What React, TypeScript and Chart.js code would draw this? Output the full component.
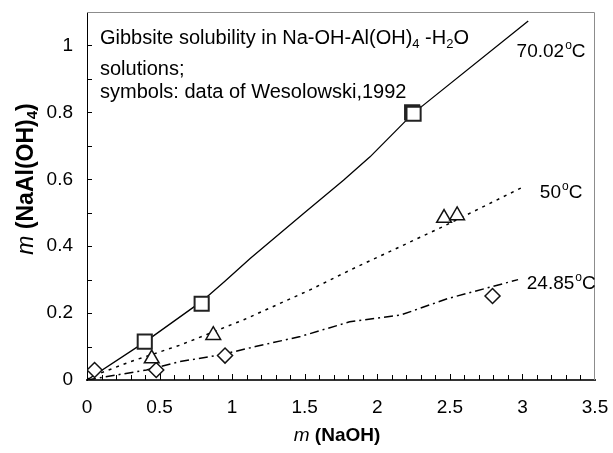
import React, { useEffect, useRef } from "react";
import { Chart, registerables } from "chart.js";
Chart.register(...registerables);

const FONT = '"Liberation Sans", Arial, Helvetica, sans-serif';

// axis ticks
const xTickValues = [0, 0.5, 1, 1.5, 2, 2.5, 3, 3.5];
const yTickValues = [0, 0.2, 0.4, 0.6, 0.8, 1];

// experimental data (symbols)
const sq70X = [0.398, 0.79, 2.24, 2.25];
const sq70Y = [0.1145, 0.228, 0.80, 0.796];
const tri50X = [0.446, 0.87, 2.46, 2.55];
const tri50Y = [0.064, 0.134, 0.484, 0.492];
const dia25X = [0.052, 0.477, 0.951, 2.794];
const dia25Y = [0.03, 0.03, 0.073, 0.251];

// model curves
const fit70X = [0, 0.4, 0.79, 0.95, 1.124, 1.49, 1.767, 1.95, 2.247, 3.04];
const fit70Y = [0, 0.114, 0.235, 0.295, 0.363, 0.497, 0.597, 0.667, 0.797, 1.073];
const fit50X = [0, 0.03, 0.3, 0.64, 1.08, 1.54, 1.81, 2.45, 3.0];
const fit50Y = [0, 0.01, 0.055, 0.104, 0.18, 0.27, 0.328, 0.458, 0.576];
const fit25X = [0, 0.41, 0.64, 0.92, 1.16, 1.47, 1.81, 2.16, 2.49, 2.97];
const fit25Y = [0, 0.03, 0.055, 0.075, 0.1, 0.13, 0.174, 0.194, 0.244, 0.3];

// temperature labels (anchored in data units)
const tempLabels = ["70.02", "50", "24.85"];
const tempLabelX = [2.96, 3.12, 3.03];
const tempLabelY = [0.965, 0.543, 0.272];

const pts = (xs: number[], ys: number[]) => xs.map((x, i) => ({ x, y: ys[i] }));

const noPad = (s: any) => {
  s.paddingTop = 0;
  s.paddingBottom = 0;
  s.paddingLeft = 0;
  s.paddingRight = 0;
};

const overlay = {
  id: "overlay",
  afterDraw(chart: any) {
    const { ctx, chartArea: a, scales } = chart;
    const xs = scales.x;
    const ys = scales.y;
    ctx.save();
    // top & right frame
    ctx.strokeStyle = "#8c8c8c";
    ctx.lineWidth = 1;
    ctx.beginPath();
    ctx.moveTo(a.left, a.top + 0.5);
    ctx.lineTo(a.right - 0.5, a.top + 0.5);
    ctx.lineTo(a.right - 0.5, a.bottom);
    ctx.stroke();
    // inside tick marks
    ctx.strokeStyle = "#000";
    ctx.lineWidth = 1;
    ctx.beginPath();
    for (let i = 1; i < 35; i++) {
      const px = Math.round(xs.getPixelForValue(i / 10)) + 0.5;
      const len = i % 5 === 0 ? 6 : 5;
      ctx.moveTo(px, a.bottom);
      ctx.lineTo(px, a.bottom - len);
    }
    for (let i = 1; i <= 10; i++) {
      const py = Math.round(ys.getPixelForValue(i / 10)) + 0.5;
      ctx.moveTo(a.left, py);
      ctx.lineTo(a.left + 5, py);
    }
    ctx.stroke();

    ctx.fillStyle = "#000";
    ctx.textBaseline = "alphabetic";
    ctx.textAlign = "left";
    // annotation text
    const big = "20px " + FONT;
    const sub = "13px " + FONT;
    let x = a.left + 13;
    const parts: [string, string, number][] = [
      ["Gibbsite solubility in Na-OH-Al(OH)", big, 0],
      ["4", sub, 4],
      [" -H", big, 0],
      ["2", sub, 4],
      ["O", big, 0],
    ];
    for (const [t, f, dy] of parts) {
      ctx.font = f;
      ctx.fillText(t, x, a.top + 32 + dy);
      x += ctx.measureText(t).width;
    }
    ctx.font = big;
    ctx.fillText("solutions;", a.left + 13, a.top + 63);
    ctx.fillText("symbols: data of Wesolowski,1992", a.left + 13, a.top + 85.5);

    // temperature labels
    for (let i = 0; i < tempLabels.length; i++) {
      let lx = xs.getPixelForValue(tempLabelX[i]);
      const ly = ys.getPixelForValue(tempLabelY[i]);
      ctx.font = "19px " + FONT;
      ctx.fillText(tempLabels[i], lx, ly);
      lx += ctx.measureText(tempLabels[i]).width + 1;
      ctx.font = "12px " + FONT;
      ctx.fillText("o", lx, ly - 8);
      lx += ctx.measureText("o").width;
      ctx.font = "19px " + FONT;
      ctx.fillText("C", lx, ly);
    }

    // x title
    const xt: [string, string][] = [
      ["m", "italic 19px " + FONT],
      [" (NaOH)", "bold 19px " + FONT],
    ];
    let w = 0;
    for (const [t, f] of xt) { ctx.font = f; w += ctx.measureText(t).width; }
    x = (a.left + a.right) / 2 - w / 2 - 4;
    for (const [t, f] of xt) {
      ctx.font = f;
      ctx.fillText(t, x, 441);
      x += ctx.measureText(t).width;
    }

    // y title (rotated)
    const yt: [string, string, number][] = [
      ["m", "italic 23px " + FONT, 0],
      [" (NaAl(OH)", "bold 23px " + FONT, 0],
      ["4", "bold 15px " + FONT, 4],
      [")", "bold 23px " + FONT, 0],
    ];
    w = 0;
    for (const [t, f] of yt) { ctx.font = f; w += ctx.measureText(t).width; }
    ctx.translate(33, 179);
    ctx.rotate(-Math.PI / 2);
    x = -w / 2;
    for (const [t, f, dy] of yt) {
      ctx.font = f;
      ctx.fillText(t, x, dy);
      x += ctx.measureText(t).width;
    }
    ctx.restore();
  },
};

export default function App() {
  const ref = useRef<HTMLCanvasElement>(null);
  useEffect(() => {
    document.body.style.margin = "0";
    const c = ref.current;
    if (!c) return;
    const marker = {
      backgroundColor: "#fff",
      borderColor: "#111",
      showLine: false,
    };
    const chart = new Chart(c, {
      type: "scatter",
      data: {
        datasets: [
          { ...marker, data: pts(sq70X, sq70Y), pointStyle: "rect", pointRadius: 10, borderWidth: 2, borderColor: "#222" },
          { ...marker, data: pts(tri50X, tri50Y), pointStyle: "triangle", pointRadius: 8.5, borderWidth: 1.5 },
          { ...marker, data: pts(dia25X, dia25Y), pointStyle: "rectRot", pointRadius: 7.5, borderWidth: 1.5 },
          { data: pts(fit70X, fit70Y), showLine: true, pointRadius: 0, borderColor: "#000", borderWidth: 1.3, backgroundColor: "#000" },
          { data: pts(fit50X, fit50Y), showLine: true, pointRadius: 0, borderColor: "#000", borderWidth: 1.5, borderDash: [3, 5], backgroundColor: "#000" },
          { data: pts(fit25X, fit25Y), showLine: true, pointRadius: 0, borderColor: "#000", borderWidth: 1.5, borderDash: [9, 4, 2, 4], backgroundColor: "#000" },
        ],
      } as any,
      options: {
        animation: false,
        responsive: false,
        maintainAspectRatio: false,
        layout: { padding: { top: 12, right: 18, left: 0, bottom: 0 } },
        plugins: { legend: { display: false }, tooltip: { enabled: false } },
        scales: {
          x: {
            type: "linear",
            min: 0,
            max: 3.5,
            afterBuildTicks: (s: any) => { s.ticks = xTickValues.map((v) => ({ value: v })); },
            afterFit: (s: any) => { s.height = 73; noPad(s); },
            ticks: { font: { family: FONT, size: 19 }, color: "#000", padding: 16, maxRotation: 0, autoSkip: false, callback: (v: any) => String(v) },
            grid: { display: false, drawTicks: false },
            border: { display: true, color: "#333", width: 2 },
          },
          y: {
            type: "linear",
            min: 0,
            max: 1.1,
            afterBuildTicks: (s: any) => { s.ticks = yTickValues.map((v) => ({ value: v })); },
            afterFit: (s: any) => { s.width = 87; noPad(s); },
            ticks: { font: { family: FONT, size: 19 }, color: "#000", padding: 14, autoSkip: false, callback: (v: any) => String(v) },
            grid: { display: false, drawTicks: false },
            border: { display: true, color: "#000", width: 1 },
          },
        },
      } as any,
      plugins: [overlay],
    });
    return () => chart.destroy();
  }, []);
  return (
    <div style={{ width: 613, height: 453 }}>
      <canvas ref={ref} width={613} height={453} style={{ display: "block" }} />
    </div>
  );
}
